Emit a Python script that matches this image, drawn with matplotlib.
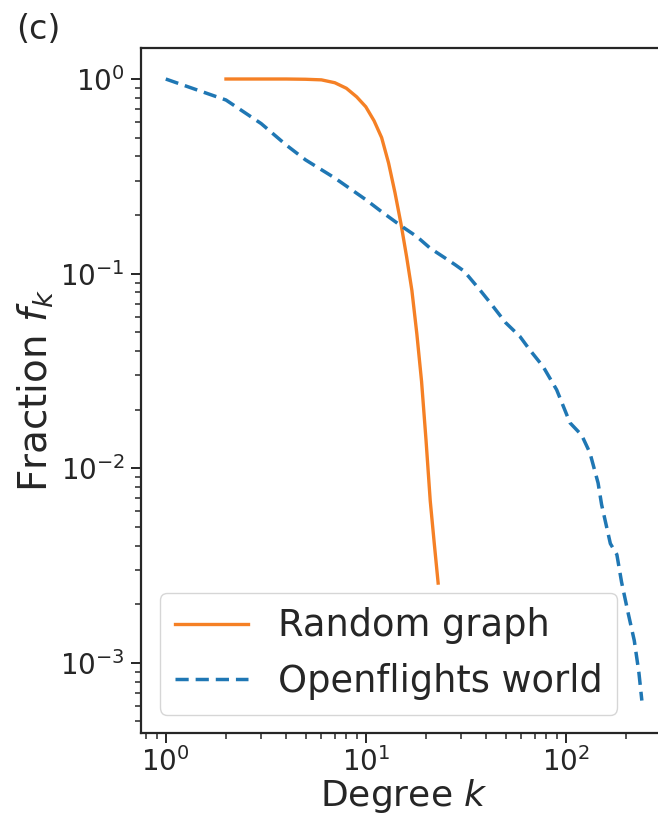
import matplotlib
matplotlib.use("Agg")
import matplotlib.pyplot as plt

# Random graph (orange, solid)
random_k = [2, 3, 4, 5, 6, 7, 8, 9, 10, 11, 12, 13, 14, 15, 16, 17, 18, 19, 20, 21, 22, 23]
random_f = [1.0, 1.0, 1.0, 0.997, 0.99, 0.957, 0.896, 0.81, 0.72, 0.61, 0.50, 0.37,
            0.26, 0.18, 0.122, 0.082, 0.049, 0.028, 0.014, 0.0068, 0.0041, 0.00257]

# Openflights world (blue, dashed)
flights_k = [1, 2, 3, 4, 5, 7, 10, 12, 15, 18, 21, 25, 28, 31, 37, 42, 50, 59, 66, 77,
             90, 105, 120, 132, 145, 151, 167, 180, 190, 205, 220, 232, 240]
flights_f = [1.0, 0.78, 0.59, 0.458, 0.384, 0.31, 0.24, 0.208, 0.176, 0.155, 0.135,
             0.12, 0.111, 0.103, 0.083, 0.0706, 0.056, 0.0475, 0.0406, 0.0333, 0.0253,
             0.0171, 0.0148, 0.012, 0.0084, 0.0065, 0.0041, 0.0036, 0.0026, 0.0018,
             0.0013, 0.00089, 0.00064]

series_labels = ["Random graph", "Openflights world"]
xlabel = "Degree $k$"
ylabel = "Fraction $f_k$"
panel_label = "(c)"

text_color = "#262626"
plt.rcParams["font.family"] = ["DejaVu Sans"]
plt.rcParams["mathtext.fontset"] = "dejavusans"

fig = plt.figure(figsize=(6.58, 8.18), dpi=100)
ax = fig.add_axes([0.2150, 0.1039, 0.7972, 0.8374])

ax.plot(random_k, random_f, color="#f58025", lw=2.4, label=series_labels[0])
ax.plot(flights_k, flights_f, color="#1f77b4", lw=2.5, ls=(0, (3.8, 2.0)),
        label=series_labels[1])

ax.set_xscale("log")
ax.set_yscale("log")
ax.set_xlim(0.756, 317)
ax.set_ylim(4.36e-4, 1.443)

for s in ax.spines.values():
    s.set_color(text_color)
    s.set_linewidth(1.6)

ax.tick_params(axis="both", which="major", length=7, width=1.4, colors=text_color,
               labelsize=20, pad=5)
ax.tick_params(axis="x", which="major", pad=3.5)
ax.tick_params(axis="both", which="minor", length=4, width=1.1, colors=text_color)

ax.set_xlabel(xlabel, fontsize=26, color=text_color, labelpad=-0.5)
ax.set_ylabel(ylabel, fontsize=28, color=text_color, labelpad=3)

leg = ax.legend(loc="lower left", fontsize=26.5, frameon=True, handletextpad=0.8)
for t in leg.get_texts():
    t.set_color(text_color)

fig.text(0.024, 0.984, panel_label, fontsize=24, color=text_color, ha="left", va="top")

fig.savefig("out.png", dpi=100)
